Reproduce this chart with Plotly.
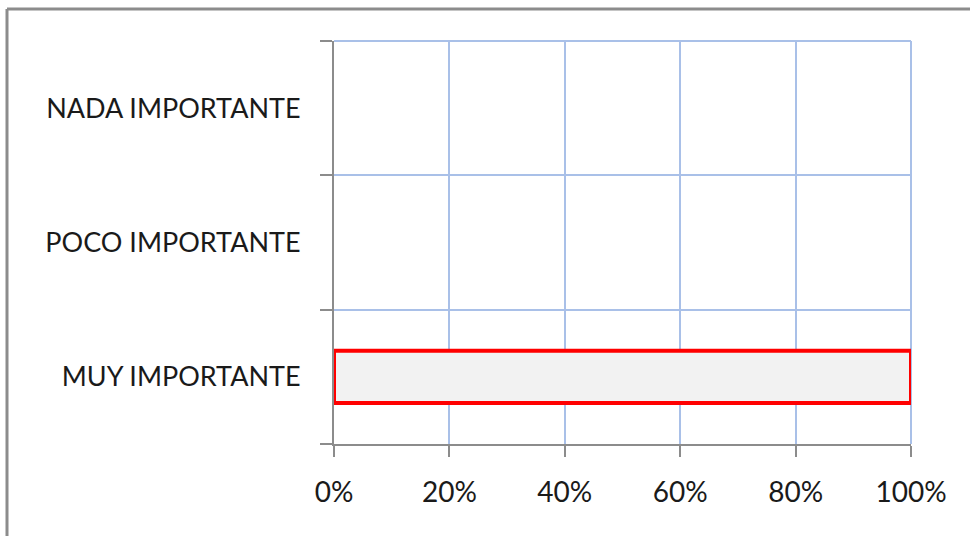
import plotly.graph_objects as go

categories = ["MUY IMPORTANTE", "POCO IMPORTANTE", "NADA IMPORTANTE"]
values = [1.0, 0.0, 0.0]
tick_vals = [0, 0.2, 0.4, 0.6, 0.8, 1.0]
tick_text = ["0%", "20%", "40%", "60%", "80%", "100%"]

W, H = 970, 536
ML, MR, MT, MB = 334, 59, 41, 92
pw, ph = W - ML - MR, H - MT - MB

# outline only on non-empty bars
line_w = [4 if v > 0 else 0 for v in values]

fig = go.Figure(go.Bar(
    x=values, y=categories, orientation="h",
    marker=dict(color="#f2f2f2", line=dict(color="#ff0000", width=line_w)),
))

grid = "#a9c0e8"
axis_gray = "#8c8c8c"

fig.update_layout(
    width=W, height=H,
    margin=dict(l=ML, r=MR, t=MT, b=MB),
    paper_bgcolor="white", plot_bgcolor="white",
    bargap=0.61, showlegend=False,
    font=dict(family="Lato, Open Sans, sans-serif", size=27, color="#1a1a1a"),
    xaxis=dict(range=[0, 1], tickvals=tick_vals, ticktext=tick_text,
               showgrid=True, gridcolor=grid, gridwidth=2,
               showline=True, linecolor=axis_gray, linewidth=2,
               ticks="outside", ticklen=11, tickcolor=axis_gray, tickwidth=2,
               ticklabelstandoff=11, zeroline=False, fixedrange=True,
               tickfont=dict(size=28)),
    yaxis=dict(categoryorder="array", categoryarray=categories,
               range=[-0.5, 2.5], tickson="boundaries",
               showgrid=True, gridcolor=grid, gridwidth=2,
               showline=True, linecolor=axis_gray, linewidth=2,
               ticks="outside", ticklen=12, tickcolor=axis_gray, tickwidth=2,
               ticklabelstandoff=26, zeroline=False, fixedrange=True),
)

# edge gridlines (top and right) that plotly omits at the range limits
fig.add_shape(type="line", xref="paper", yref="paper", x0=0, x1=1, y0=1, y1=1,
              line=dict(color=grid, width=2), layer="below")
fig.add_shape(type="line", xref="paper", yref="paper", x0=1, x1=1, y0=0, y1=1,
              line=dict(color=grid, width=2), layer="below")

# outer chart border (left and top edges visible)
bx = (7 - ML) / pw
by = 1 + (MT - 9) / ph
fig.add_shape(type="line", xref="paper", yref="paper", x0=bx, x1=bx, y0=-1, y1=by,
              line=dict(color="#8c8c8c", width=3))
fig.add_shape(type="line", xref="paper", yref="paper", x0=bx, x1=2, y0=by, y1=by,
              line=dict(color="#8c8c8c", width=3))

fig.write_html("out.html")
